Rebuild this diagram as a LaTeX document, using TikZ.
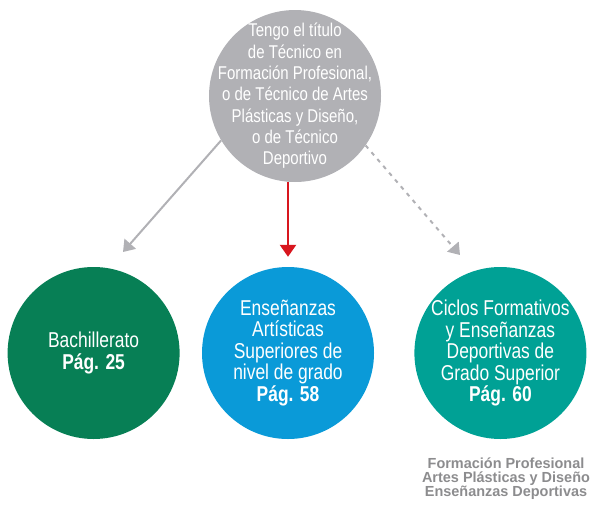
\documentclass[tikz,border=0pt]{standalone}
\usepackage{fontspec}
\setmainfont{Liberation Sans}[FakeStretch=0.81]
\newfontfamily\notefont{Liberation Sans}[FakeStretch=0.99]
\usetikzlibrary{positioning, arrows.meta}

\definecolor{topgray}{HTML}{B1B1B5}
\definecolor{bachgreen}{HTML}{077F55}
\definecolor{artblue}{HTML}{0A9AD8}
\definecolor{cicloteal}{HTML}{00A195}
\definecolor{arrowred}{HTML}{D8161E}
\definecolor{notegray}{HTML}{8C8C8E}

\begin{document}
\begin{tikzpicture}[x=1pt, y=-1pt, node distance=1cm and 1cm, >=Triangle,
    every node/.style={circle, minimum size=172pt, inner sep=-45pt, align=center, text=white,
        font=\fontsize{21.5}{21.5}\selectfont},
    start/.style={fill=topgray, font=\fontsize{18.5}{21.3}\selectfont},
    bach/.style={fill=bachgreen},
    arts/.style={fill=artblue},
    ciclo/.style={fill=cicloteal},
    link/.style={->, draw=topgray, line width=2pt, arrows={-Triangle[width=15pt, length=11pt]}},
    main link/.style={->, draw=arrowred, line width=2.5pt, arrows={-Triangle[width=16pt, length=12pt]}},
    maybe link/.style={link, dash pattern=on 4pt off 5pt}]

\useasboundingbox (0,0) rectangle (596,506);

% Node for the starting title
\node[start] (titulo) at (295,96) {Tengo el título\\de Técnico en\\Formación Profesional,\\o de Técnico de Artes\\Plásticas y Diseño,\\o de Técnico\\Deportivo};

% Nodes for the three paths
\node[arts] (artes) at (288,353) {Enseñanzas\\Artísticas\\Superiores de\\nivel de grado\\\textbf{Pág. 58}};
\node[bach, left=22pt of artes] (bachiller) {Bachillerato\\\textbf{Pág. 25}};
\node[ciclo, right=40pt of artes] (ciclos) {Ciclos Formativos\\y Enseñanzas\\Deportivas de\\Grado Superior\\\textbf{Pág. 60}};

% note under the last path
\node[shape=rectangle, minimum size=0pt, inner sep=0pt, text=notegray, font=\notefont\bfseries\fontsize{14.6}{14}\selectfont]
    (nota) at (506,479) {Formación Profesional\\Artes Plásticas y Diseño\\Enseñanzas Deportivas};

% arrow ends
\coordinate (tipbach) at (123,252);
\coordinate (tipciclo) at (460,255);

% connections from the title
\draw[link] (titulo.211) -- (tipbach);
\draw[main link, shorten >=10pt] (titulo.south -| artes.north) -- (artes.north);
\draw[maybe link] (titulo.325) -- (tipciclo);

\end{tikzpicture}
\end{document}
